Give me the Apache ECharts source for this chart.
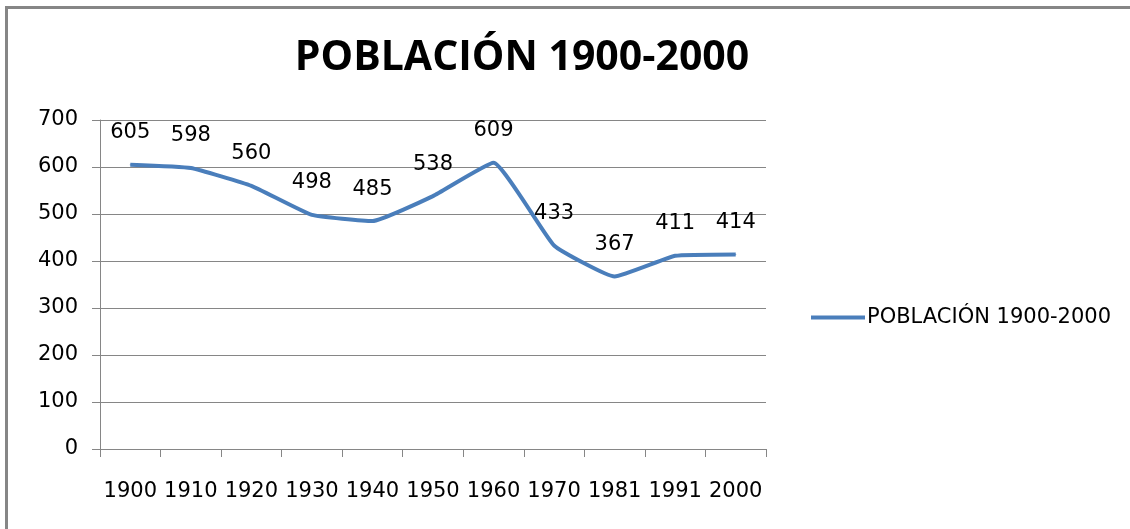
<!DOCTYPE html>
<html>
<head>
<meta charset="utf-8">
<script src="https://cdn.jsdelivr.net/npm/echarts@6/dist/echarts.min.js"></script>
<style>
  html, body { margin: 0; padding: 0; background: #fff; }
  .chartbody { position: relative; width: 1130px; height: 529px; }
  .frame { position: absolute; left: 5px; top: 6px; right: 0; bottom: 0; border-top: 3px solid #868686; border-left: 3px solid #868686; }
  #chart { position: absolute; left: 0; top: 0; width: 1130px; height: 529px; }
</style>
</head>
<body>
<div class="chartbody">
  <div class="frame"></div>
  <div id="chart"></div>
</div>
<script>
  var years = ['1900', '1910', '1920', '1930', '1940', '1950', '1960', '1970', '1981', '1991', '2000']
  var poblacion = [605, 598, 560, 498, 485, 538, 609, 433, 367, 411, 414]
  var serieName = 'POBLACIÓN 1900-2000'

  var font = '"DejaVu Sans", sans-serif'
  var grey = '#868686'

  var chart = echarts.init(document.getElementById('chart'))
  chart.setOption({
    animation: false,
    textStyle: { fontFamily: font },
    title: {
      text: serieName,
      left: 517,
      textAlign: 'center',
      top: 33,
      textStyle: { fontSize: 41, fontWeight: 'bold', color: '#000', fontFamily: '"Open Sans", sans-serif' }
    },
    legend: {
      data: [serieName],
      left: 806,
      top: 302,
      itemWidth: 54,
      itemHeight: 4,
      itemGap: 2,
      icon: 'rect',
      textStyle: { fontSize: 21, color: '#000', fontFamily: font, padding: [0, 0, 0, -3] }
    },
    grid: { left: 100, right: 364, top: 120, bottom: 80 },
    xAxis: {
      type: 'category',
      data: years,
      boundaryGap: true,
      axisLine: { lineStyle: { color: grey, width: 1 } },
      axisTick: { show: true, length: 8, lineStyle: { color: grey } },
      axisLabel: { interval: 0, hideOverlap: false, fontSize: 21, color: '#000', margin: 32, fontFamily: font }
    },
    yAxis: {
      type: 'value',
      min: 0,
      max: 700,
      interval: 100,
      axisLine: { show: true, lineStyle: { color: grey } },
      axisTick: { show: true, length: 8, lineStyle: { color: grey } },
      axisLabel: { fontSize: 21, color: '#000', margin: 22, fontFamily: font },
      splitLine: { lineStyle: { color: grey, width: 1 } }
    },
    series: [
      {
        name: serieName,
        type: 'line',
        data: poblacion,
        smooth: 0.12,
        symbol: 'circle',
        symbolSize: 1,
        showSymbol: true,
        lineStyle: { color: '#4a7ebb', width: 4 },
        itemStyle: { color: '#4a7ebb' },
        label: {
          show: true,
          position: 'top',
          distance: 21,
          fontSize: 21,
          color: '#000',
          fontFamily: font
        }
      }
    ]
  })
</script>
</body>
</html>
